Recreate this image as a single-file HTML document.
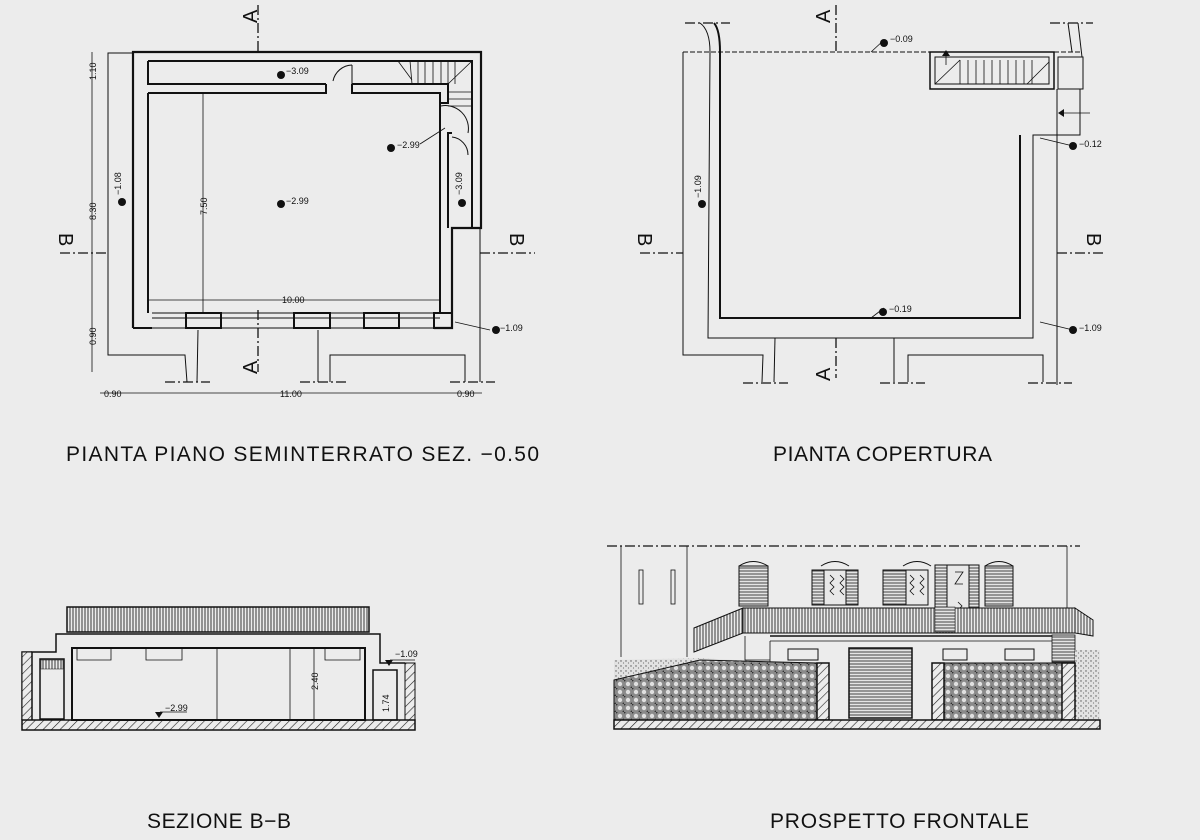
<!DOCTYPE html>
<html><head><meta charset="utf-8"><style>
html,body{margin:0;padding:0;background:#ececec;}
svg{display:block;}
text{font-family:"Liberation Sans",sans-serif;fill:#111;}
.t{font-size:21px;letter-spacing:1px;}
.s{font-size:9px;}
</style></head><body>
<svg width="1200" height="840" viewBox="0 0 1200 840" xmlns="http://www.w3.org/2000/svg">
<defs>
<pattern id="hat" width="6" height="6" patternUnits="userSpaceOnUse" patternTransform="rotate(45)">
<rect width="6" height="6" fill="#ececec"/><line x1="0" y1="0" x2="0" y2="6" stroke="#222" stroke-width="1.2"/></pattern>
<pattern id="hedge" width="8" height="8" patternUnits="userSpaceOnUse">
<rect width="8" height="8" fill="#8a8a8a"/><circle cx="4" cy="4" r="2.2" fill="#e0e0e0"/><circle cx="0" cy="0" r="1.5" fill="#333"/><circle cx="8" cy="8" r="1.5" fill="#333"/></pattern>
<pattern id="vl" width="3" height="10" patternUnits="userSpaceOnUse">
<rect width="3" height="10" fill="#ececec"/><line x1="1" y1="0" x2="1" y2="10" stroke="#222" stroke-width="0.9"/></pattern>
<pattern id="hl" width="10" height="3" patternUnits="userSpaceOnUse">
<rect width="10" height="3" fill="#e4e4e4"/><line x1="0" y1="1" x2="10" y2="1" stroke="#333" stroke-width="0.9"/></pattern>
<pattern id="dots" width="5" height="5" patternUnits="userSpaceOnUse">
<rect width="5" height="5" fill="#e2e2e2"/><circle cx="1" cy="1" r="0.7" fill="#555"/><circle cx="3.5" cy="3" r="0.6" fill="#777"/></pattern>
</defs>
<rect width="1200" height="840" fill="#ececec"/>

<!-- ===== TOP LEFT PLAN ===== -->
<g stroke="#111" fill="none">
<polyline points="134,53 108,53 108,355 185,355 187,382" stroke-width="1"/>
<polyline points="198,330 197,382" stroke-width="1"/>
<polyline points="318,330 318,382" stroke-width="1"/>
<polyline points="330,382 330,355 465,355 465,382" stroke-width="1"/>
<polyline points="480,228 480,382" stroke-width="1"/>
<g stroke-dasharray="10,3,2,3" stroke-width="1.3">
<line x1="165" y1="382" x2="210" y2="382"/><line x1="300" y1="382" x2="348" y2="382"/><line x1="450" y1="382" x2="495" y2="382"/>
<line x1="258" y1="5" x2="258" y2="52"/><line x1="258" y1="310" x2="258" y2="372"/>
<line x1="60" y1="253" x2="108" y2="253"/><line x1="480" y1="253" x2="535" y2="253"/>
</g>
<polyline points="133,328 133,52 481,52 481,228 452,228 452,328 434,328" stroke-width="2.2"/>
<line x1="133" y1="328" x2="152" y2="328" stroke-width="2"/>
<polyline points="148,61 472,61 472,228" stroke-width="2"/>
<polyline points="148,61 148,84 326,84" stroke-width="2"/>
<polyline points="352,84 448,84 448,103 441,103" stroke-width="2"/>
<polyline points="452,133 448,133 448,228" stroke-width="2"/>
<polyline points="148,93 148,313" stroke-width="2"/>
<polyline points="148,93 326,93 326,84" stroke-width="2"/>
<polyline points="352,84 352,93 440,93 440,313" stroke-width="2"/>
<line x1="152" y1="313" x2="440" y2="313" stroke-width="1"/>
<line x1="152" y1="318" x2="440" y2="318" stroke-width="1"/>
<line x1="152" y1="328" x2="434" y2="328" stroke-width="1"/>
<rect x="186" y="313" width="35" height="15" stroke-width="2"/>
<rect x="294" y="313" width="36" height="15" stroke-width="2"/>
<rect x="364" y="313" width="35" height="15" stroke-width="2"/>
<rect x="434" y="313" width="18" height="15" stroke-width="2"/>
<path d="M352,65 A20,20 0 0 0 333,81" stroke-width="1"/><line x1="352" y1="65" x2="352" y2="84" stroke-width="1"/>
<path d="M441,106 A23,23 0 0 1 468,133" stroke-width="1"/>
<path d="M452,137 A18,18 0 0 1 468,155" stroke-width="1"/>
<g stroke-width="0.8"><line x1="410" y1="61" x2="412" y2="84"/>
<line x1="418" y1="61" x2="418" y2="84"/><line x1="425" y1="61" x2="425" y2="84"/><line x1="433" y1="61" x2="433" y2="84"/><line x1="441" y1="61" x2="441" y2="84"/><line x1="448" y1="61" x2="448" y2="84"/><line x1="455" y1="61" x2="455" y2="84"/>
<line x1="448" y1="92" x2="472" y2="92"/><line x1="448" y1="99" x2="472" y2="99"/><line x1="448" y1="106" x2="472" y2="106"/>
<line x1="448" y1="84" x2="472" y2="61"/><line x1="398" y1="61" x2="412" y2="80"/></g>
<line x1="92" y1="52" x2="92" y2="372" stroke-width="0.8"/>
<line x1="100" y1="393" x2="482" y2="393" stroke-width="0.8"/>
<line x1="203" y1="93" x2="203" y2="313" stroke-width="0.8"/>
<line x1="148" y1="300" x2="440" y2="300" stroke-width="0.8"/>
<line x1="455" y1="322" x2="490" y2="330" stroke-width="0.8"/>
<line x1="420" y1="144" x2="445" y2="128" stroke-width="0.8"/>
</g>
<g fill="#111">
<circle cx="281" cy="75" r="4"/><circle cx="391" cy="148" r="4"/><circle cx="281" cy="204" r="4"/>
<circle cx="122" cy="202" r="4"/><circle cx="462" cy="203" r="4"/><circle cx="496" cy="330" r="4"/>
</g>
<g class="s">
<text x="286" y="74">−3.09</text><text x="397" y="148">−2.99</text><text x="286" y="204">−2.99</text>
<text x="500" y="331">−1.09</text>
<text transform="translate(121,195) rotate(-90)">−1.08</text>
<text transform="translate(462,195) rotate(-90)">−3.09</text>
<text transform="translate(96,80) rotate(-90)">1.10</text>
<text transform="translate(96,220) rotate(-90)">8.30</text>
<text transform="translate(96,345) rotate(-90)">0.90</text>
<text transform="translate(207,215) rotate(-90)">7.50</text>
<text x="282" y="303">10.00</text>
<text x="104" y="397">0.90</text><text x="280" y="397">11.00</text><text x="457" y="397">0.90</text>
</g>
<g style="font-size:20px">
<text transform="translate(257,23) rotate(-90)">A</text>
<text transform="translate(257,374) rotate(-90)">A</text>
<text transform="translate(59,233) rotate(90)">B</text>
<text transform="translate(510,233) rotate(90)">B</text>
</g>
<text class="t" x="66" y="461" textLength="474">PIANTA PIANO SEMINTERRATO SEZ. −0.50</text>

<!-- ===== TOP RIGHT PLAN ===== -->
<g stroke="#111" fill="none">
<polyline points="683,52 683,355 763,355 762,382" stroke-width="1"/>
<line x1="775" y1="338" x2="774" y2="382" stroke-width="1"/>
<line x1="894" y1="338" x2="894" y2="382" stroke-width="1"/>
<polyline points="908,382 908,355 1043,355 1043,382" stroke-width="1"/>
<line x1="1057" y1="89" x2="1057" y2="385" stroke-width="1"/>
<line x1="683" y1="52" x2="1080" y2="52" stroke-width="1" stroke-dasharray="5,2"/>
<g stroke-dasharray="10,3,2,3" stroke-width="1.3">
<line x1="743" y1="383" x2="788" y2="383"/><line x1="880" y1="383" x2="925" y2="383"/><line x1="1028" y1="383" x2="1072" y2="383"/>
<line x1="836" y1="5" x2="836" y2="52"/><line x1="836" y1="338" x2="836" y2="378"/>
<line x1="640" y1="253" x2="683" y2="253"/><line x1="1057" y1="253" x2="1103" y2="253"/>
<line x1="685" y1="23" x2="730" y2="23"/><line x1="1050" y1="23" x2="1093" y2="23"/>
</g>
<path d="M700,23 Q710,30 710,52 L708,338 L1033,338 L1033,135 L1080,135 L1080,89" stroke-width="1"/>
<path d="M714,23 Q720,30 720,52 L720,318 L1020,318 L1020,135" stroke-width="2"/>
<path d="M1068,23 L1072,52" stroke-width="1"/><path d="M1078,23 L1082,57" stroke-width="1"/>
<rect x="930" y="52" width="124" height="37" stroke-width="1.5"/>
<rect x="935" y="57" width="114" height="27" stroke-width="1"/>
<rect x="1058" y="57" width="25" height="32" stroke-width="1"/>
<g stroke-width="0.8">
<line x1="960" y1="60" x2="960" y2="84"/><line x1="968" y1="60" x2="968" y2="84"/><line x1="976" y1="60" x2="976" y2="84"/><line x1="984" y1="60" x2="984" y2="84"/><line x1="992" y1="60" x2="992" y2="84"/><line x1="1000" y1="60" x2="1000" y2="84"/><line x1="1008" y1="60" x2="1008" y2="84"/><line x1="1016" y1="60" x2="1016" y2="84"/><line x1="1024" y1="60" x2="1024" y2="84"/><line x1="1032" y1="60" x2="1032" y2="84"/>
<line x1="935" y1="84" x2="960" y2="60"/><line x1="1027" y1="84" x2="1049" y2="62"/>
<line x1="946" y1="65" x2="946" y2="52"/><line x1="1060" y1="113" x2="1090" y2="113"/>
<line x1="871" y1="52" x2="884" y2="40"/><line x1="1040" y1="138" x2="1073" y2="146"/>
<line x1="871" y1="318" x2="884" y2="308"/><line x1="1040" y1="322" x2="1073" y2="330"/>
</g>
</g>
<polygon points="946,50 942,56 950,56" fill="#111"/><polygon points="1058,113 1064,109 1064,117" fill="#111"/>
<g fill="#111"><circle cx="884" cy="43" r="4"/><circle cx="1073" cy="146" r="4"/><circle cx="883" cy="312" r="4"/><circle cx="1073" cy="330" r="4"/><circle cx="702" cy="204" r="4"/></g>
<g class="s">
<text x="890" y="42">−0.09</text><text x="1079" y="147">−0.12</text><text x="889" y="312">−0.19</text><text x="1079" y="331">−1.09</text>
<text transform="translate(701,198) rotate(-90)">−1.09</text>
</g>
<g style="font-size:20px">
<text transform="translate(830,23) rotate(-90)">A</text>
<text transform="translate(830,381) rotate(-90)">A</text>
<text transform="translate(638,233) rotate(90)">B</text>
<text transform="translate(1087,233) rotate(90)">B</text>
</g>
<text class="t" x="773" y="461" textLength="220">PIANTA COPERTURA</text>

<!-- ===== SEZIONE B-B ===== -->
<g stroke="#111">
<rect x="67" y="607" width="302" height="25" fill="url(#vl)" stroke-width="1.5"/>
<line x1="67" y1="632" x2="369" y2="632" stroke-width="1"/>
<polyline points="22,720 22,652 32,652" fill="none" stroke-width="1.5"/>
<rect x="22" y="652" width="10" height="68" fill="url(#hat)" stroke-width="1"/>
<polyline points="32,720 32,652 56,652 56,634 380,634 380,663 405,663" fill="none" stroke-width="1.5"/>
<rect x="405" y="663" width="10" height="57" fill="url(#hat)" stroke-width="1"/>
<rect x="22" y="720" width="393" height="10" fill="url(#hat)" stroke-width="1.5"/>
<rect x="72" y="648" width="293" height="72" fill="none" stroke-width="2"/>
<rect x="40" y="659" width="24" height="60" fill="none" stroke-width="1.5"/>
<rect x="41" y="660" width="22" height="9" fill="url(#vl)" stroke-width="0.5"/>
<rect x="373" y="670" width="24" height="50" fill="none" stroke-width="1.5"/>
<g fill="none" stroke-width="0.8">
<polyline points="77,648 77,660 111,660 111,648"/><polyline points="146,648 146,660 182,660 182,648"/><polyline points="325,648 325,660 360,660 360,648"/>
<line x1="217" y1="648" x2="217" y2="720"/><line x1="290" y1="648" x2="290" y2="720"/>
<line x1="314" y1="648" x2="314" y2="720"/>
<line x1="160" y1="712" x2="187" y2="712"/><line x1="390" y1="660" x2="415" y2="660"/>
</g>
</g>
<polygon points="155,712 163,712 159,718" fill="#111"/><polygon points="385,660 393,660 389,666" fill="#111"/>
<g class="s"><text x="165" y="711">−2.99</text><text x="395" y="657">−1.09</text>
<text transform="translate(318,690) rotate(-90)">2.40</text>
<text transform="translate(389,712) rotate(-90)">1.74</text></g>
<text class="t" x="147" y="828" textLength="145">SEZIONE B−B</text>

<!-- ===== PROSPETTO FRONTALE ===== -->
<g stroke="#111">
<line x1="607" y1="546" x2="1080" y2="546" stroke-width="1.3" stroke-dasharray="10,3,2,3"/>
<line x1="621" y1="546" x2="621" y2="657" stroke-width="0.8"/>
<line x1="687" y1="546" x2="687" y2="657" stroke-width="0.8"/>
<line x1="1067" y1="546" x2="1067" y2="610" stroke-width="0.8"/>
<rect x="639" y="570" width="4" height="34" fill="none" stroke-width="0.8"/>
<rect x="671" y="570" width="4" height="34" fill="none" stroke-width="0.8"/>
<g stroke-width="1">
<rect x="739" y="566" width="29" height="40" fill="url(#hl)"/><path d="M739,566 Q753,557 768,566" fill="none"/>
<rect x="812" y="570" width="12" height="35" fill="url(#hl)"/><rect x="824" y="570" width="22" height="35" fill="#e8e8e8"/><rect x="846" y="570" width="12" height="35" fill="url(#hl)"/><path d="M821,566 Q835,557 849,566" fill="none"/>
<rect x="883" y="570" width="23" height="35" fill="url(#hl)"/><rect x="906" y="570" width="22" height="35" fill="#e8e8e8"/><path d="M903,566 Q917,557 931,566" fill="none"/>
<rect x="935" y="565" width="12" height="65" fill="url(#hl)"/><rect x="947" y="565" width="22" height="65" fill="#e8e8e8"/><rect x="969" y="565" width="10" height="65" fill="url(#hl)"/>
<rect x="985" y="566" width="28" height="40" fill="url(#hl)"/><path d="M985,566 Q999,557 1013,566" fill="none"/>
</g>
<path d="M830,575 l4,4 -4,4 4,4 -4,4 4,4 M840,575 l4,4 -4,4 4,4 -4,4 4,4 M910,575 l4,4 -4,4 4,4 -4,4 4,4 M920,575 l4,4 -4,4 4,4 -4,4 4,4 M955,572 l8,0 -8,12 8,0 M958,602 l4,4 -4,4 4,4 -4,4" fill="none" stroke-width="0.8"/>
<rect x="743" y="608" width="332" height="25" fill="url(#vl)" stroke-width="1"/>
<polygon points="694,628 743,608 743,633 694,652" fill="url(#vl)" stroke-width="1"/>
<polygon points="1075,608 1093,620 1093,636 1075,633" fill="url(#vl)" stroke-width="1"/>
<rect x="935" y="607" width="20" height="25" fill="url(#hl)" stroke-width="0.5"/>
<line x1="770" y1="636" x2="1075" y2="636" stroke-width="1.5"/>
<line x1="770" y1="641" x2="1065" y2="641" stroke-width="0.8"/>
<polyline points="745,636 745,660 770,660" fill="none" stroke-width="0.8"/>
<line x1="770" y1="641" x2="770" y2="663" stroke-width="0.8"/>
<rect x="1052" y="635" width="23" height="27" fill="url(#hl)" stroke-width="0.8"/>
<rect x="788" y="649" width="30" height="11" fill="none" stroke-width="1"/>
<rect x="943" y="649" width="24" height="11" fill="none" stroke-width="1"/>
<rect x="1005" y="649" width="29" height="11" fill="none" stroke-width="1"/>
<polygon points="614,660 700,658 770,662 614,680" fill="url(#dots)" stroke="none"/>
<rect x="1075" y="650" width="25" height="70" fill="url(#dots)" stroke="none"/>
<polygon points="614,680 700,660 817,663 817,720 614,720" fill="url(#hedge)" stroke="#111" stroke-width="1"/>
<rect x="944" y="663" width="118" height="57" fill="url(#hedge)" stroke-width="1"/>
<rect x="817" y="663" width="12" height="57" fill="url(#hat)" stroke-width="1.5"/>
<rect x="932" y="663" width="12" height="57" fill="url(#hat)" stroke-width="1.5"/>
<rect x="1062" y="663" width="13" height="57" fill="url(#hat)" stroke-width="1.5"/>
<rect x="849" y="648" width="63" height="70" fill="url(#hl)" stroke-width="1.5"/>
<rect x="614" y="720" width="486" height="9" fill="url(#hat)" stroke-width="1.5"/>
</g>
<text class="t" x="770" y="828" textLength="260">PROSPETTO FRONTALE</text>
</svg>
</body></html>
